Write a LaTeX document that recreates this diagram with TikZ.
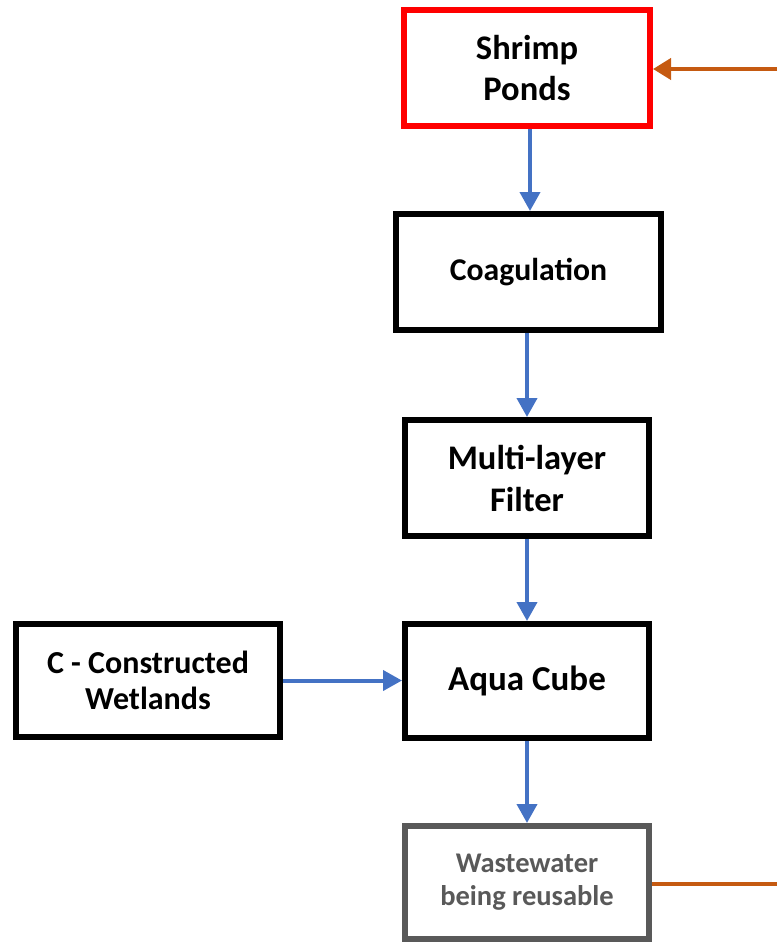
\documentclass[tikz,border=0pt]{standalone}
\usepackage{fontspec}
\setmainfont{Carlito}
\usetikzlibrary{arrows.meta}
\definecolor{flowblue}{HTML}{4472C4}
\definecolor{floworange}{HTML}{C55A11}
\definecolor{boxgray}{HTML}{595959}
\definecolor{pondred}{HTML}{FF0000}
\tikzset{
  stepbox/.style={draw=black, line width=6pt, fill=white, inner sep=0pt, align=center},
  fs/.style={font=\bfseries\fontsize{#1}{#1}\selectfont},
  bluearrow/.style={draw=flowblue, line width=4pt, -{Triangle[width=20pt,length=19pt]}},
  orangearrow/.style={draw=floworange, line width=4pt, -{Triangle[width=21pt,length=18pt]}},
  orangeline/.style={draw=floworange, line width=4pt}
}
\begin{document}
\begin{tikzpicture}[x=1pt,y=-1pt]
\useasboundingbox (0,0) rectangle (777,942);
\node[stepbox, draw=pondred, minimum width=246pt, minimum height=116pt,
  font=\bfseries\fontsize{34.5}{41}\selectfont] (shrimp) at (527,68)
  {Shrimp\\Ponds};
\node[stepbox, minimum width=265pt, minimum height=116pt,
  font=\bfseries\fontsize{31.7}{38}\selectfont] (coag) at (528.5,272)
  {Coagulation};
\node[stepbox, minimum width=244pt, minimum height=116pt,
  font=\bfseries\fontsize{34.5}{42}\selectfont] (multi) at (527,478)
  {Multi-layer\\Filter};
\node[stepbox, minimum width=244pt, minimum height=114pt,
  font=\bfseries\fontsize{35}{42}\selectfont] (aqua) at (527,681)
  {Aqua Cube};
\node[stepbox, minimum width=264pt, minimum height=113pt,
  font=\bfseries\fontsize{32}{36}\selectfont] (cw) at (148,680.5)
  {C - Constructed\\Wetlands};
\node[stepbox, draw=boxgray, text=boxgray, minimum width=244pt, minimum height=113pt,
  font=\bfseries\fontsize{28.5}{33}\selectfont] (waste) at (527,882.5)
  {Wastewater\\being reusable};
\coordinate (inR) at (777,69);
\coordinate (outR) at (777,884);
\draw[bluearrow] (shrimp.south -| 530,0) -- (coag.north -| 530,0);
\draw[bluearrow] (coag.south -| 527,0) -- (multi.north -| 527,0);
\draw[bluearrow] (multi.south) -- (aqua.north);
\draw[bluearrow] (aqua.south) -- (waste.north);
\draw[bluearrow] (cw.east) -- (aqua.west |- cw.east);
\draw[orangearrow] (inR) -- (shrimp.east |- inR);
\draw[orangeline] (waste.east |- outR) -- (outR);
\end{tikzpicture}
\end{document}
